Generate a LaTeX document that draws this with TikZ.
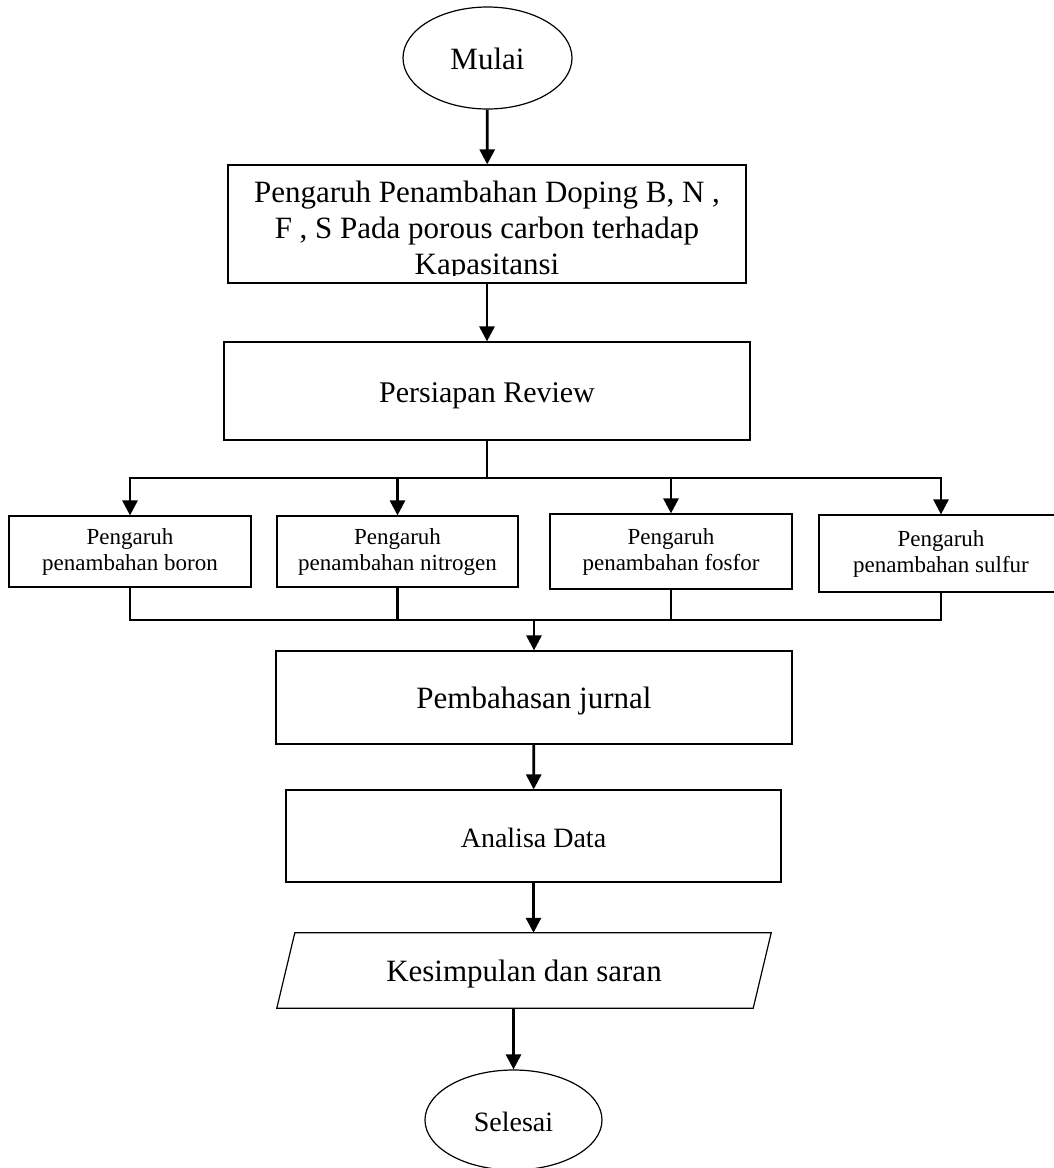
\documentclass[tikz,border=0pt]{standalone}
\usepackage{fontspec}
\setmainfont{Liberation Serif}
\usetikzlibrary{arrows.meta,shapes.geometric}

\tikzset{
  kotak/.style={draw,line width=1.2pt,inner sep=0pt,align=center},
  bulat/.style={draw,ellipse,line width=1.2pt,inner sep=0pt},
  garis/.style={line width=2.8pt},
  panah/.style={line width=2.8pt,-{Triangle[width=15pt,length=15pt]}},
  besar/.style={font=\fontsize{31}{36}\selectfont},
  sedang/.style={font=\fontsize{28}{34}\selectfont},
  kecil/.style={font=\fontsize{23}{26}\selectfont},
  satubaris/.style={text height=22pt,text depth=0pt}
}

\begin{document}
\begin{tikzpicture}[x=1pt,y=-1pt]
\useasboundingbox (0,0) rectangle (1053,1168);

\node[bulat,besar,satubaris,minimum width=169,minimum height=102] (mulai) at (487.5,58) {Mulai};

\node[kotak,minimum width=518,minimum height=118] (pengaruh) at (487,224) {};
\begin{scope}
\clip (228,165) rectangle (746,275);
\node[besar,align=center] (judul) at (487,231) {Pengaruh Penambahan Doping B, N ,\\F , S Pada porous carbon terhadap\\Kapasitansi};
\end{scope}

\node[kotak,satubaris,font=\fontsize{30}{36}\selectfont,minimum width=526,minimum height=98] (review) at (487,391) {Persiapan Review};

% empat cabang
\node[kotak,kecil,minimum width=242,minimum height=71] (boron) at (130,551.5) {Pengaruh\\penambahan boron};
\node[kotak,kecil,minimum width=241,minimum height=71] (nitrogen) at (397.5,551.5) {Pengaruh\\penambahan nitrogen};
\node[kotak,kecil,minimum width=242,minimum height=75] (fosfor) at (671,551.5) {Pengaruh\\penambahan fosfor};
\node[kotak,kecil,minimum width=244,minimum height=77] (sulfur) at (941,553.5) {Pengaruh\\penambahan sulfur};

\node[kotak,besar,satubaris,minimum width=516,minimum height=93] (pembahasan) at (534,697.5) {Pembahasan jurnal};
\node[kotak,sedang,satubaris,minimum width=495,minimum height=92] (analisa) at (533.5,836) {Analisa Data};
\node[inner sep=0pt,besar,satubaris,minimum width=476,minimum height=75] (kesimpulan) at (524,970.5) {Kesimpulan dan saran};
\draw[line width=1.2pt] ([xshift=-9pt]kesimpulan.south west) -- ([xshift=9pt]kesimpulan.north west)
  -- ([xshift=9pt]kesimpulan.north east) -- ([xshift=-9pt]kesimpulan.south east) -- cycle;
\node[bulat,sedang,satubaris,minimum width=177,minimum height=100] (selesai) at (513.5,1120) {Selesai};

\coordinate (cabang) at (487,478);
\coordinate (gabung) at (534,620);

\draw[panah] (mulai) -- (pengaruh);
\draw[panah] (pengaruh) -- (review);
\draw[garis] (review) -- (cabang);
\foreach \n in {boron,nitrogen,fosfor,sulfur}
  \draw[panah] (cabang) -| (\n);
\foreach \n in {boron,nitrogen,fosfor,sulfur}
  \draw[garis] (\n) |- (gabung);
\draw[panah] (gabung) -- (pembahasan);
\draw[panah] (pembahasan) -- (analisa);
\draw[panah] (analisa) -- (analisa.south |- kesimpulan.north);
\draw[panah] (kesimpulan.south -| selesai) -- (selesai);
\end{tikzpicture}
\end{document}
